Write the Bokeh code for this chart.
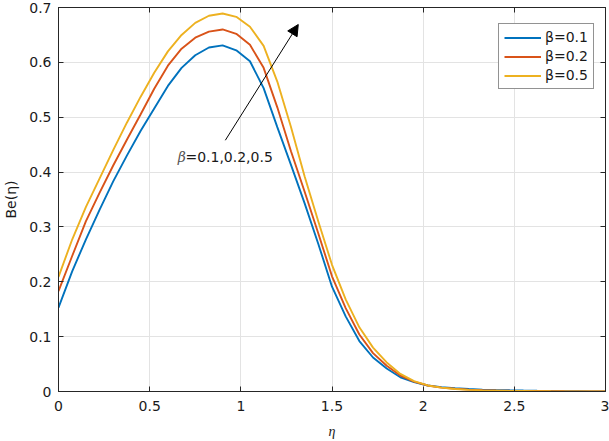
from bokeh.plotting import figure
from bokeh.models import (Range1d, LinearAxis, FixedTicker, NumeralTickFormatter,
                          CustomJSTickFormatter, Arrow, NormalHead, Legend, LegendItem)
from bokeh.core.properties import value
from bokeh.embed import file_html
from bokeh.resources import INLINE

eta = [0, 0.075, 0.15, 0.225, 0.3, 0.375, 0.45, 0.525, 0.6, 0.675, 0.75, 0.825, 0.9,
       0.975, 1.05, 1.125, 1.2, 1.275, 1.35, 1.425, 1.5, 1.575, 1.65, 1.725, 1.8, 1.875,
       1.95, 2.025, 2.1, 2.175, 2.25, 2.325, 2.4, 2.475, 2.55, 2.625, 2.7, 2.775, 2.85,
       2.925, 3.0]

be_b01 = [0.153, 0.219, 0.277, 0.331, 0.383, 0.430, 0.475, 0.516, 0.557, 0.590, 0.613,
          0.627, 0.631, 0.622, 0.602, 0.553, 0.482, 0.413, 0.343, 0.269, 0.191, 0.137,
          0.092, 0.062, 0.042, 0.026, 0.017, 0.011, 0.008, 0.006, 0.0045, 0.0035, 0.0028,
          0.0022, 0.0017, 0.0013, 0.001, 0.0007, 0.0005, 0.0003, 0.0002]
be_b02 = [0.183, 0.247, 0.310, 0.362, 0.412, 0.459, 0.505, 0.552, 0.594, 0.625, 0.645,
          0.656, 0.660, 0.652, 0.632, 0.590, 0.518, 0.438, 0.364, 0.288, 0.210, 0.152,
          0.104, 0.070, 0.047, 0.029, 0.018, 0.011, 0.007, 0.005, 0.0035, 0.0025, 0.0019,
          0.0014, 0.001, 0.0008, 0.0006, 0.0004, 0.0003, 0.0002, 0.0001]
be_b05 = [0.209, 0.277, 0.336, 0.388, 0.440, 0.490, 0.537, 0.581, 0.620, 0.650, 0.672,
          0.685, 0.689, 0.683, 0.665, 0.630, 0.565, 0.482, 0.392, 0.310, 0.231, 0.168,
          0.117, 0.080, 0.053, 0.032, 0.019, 0.011, 0.007, 0.0045, 0.003, 0.002, 0.0015,
          0.001, 0.0008, 0.0006, 0.0004, 0.0003, 0.0002, 0.0001, 0.0001]

labels = ["β=0.1", "β=0.2", "β=0.5"]
colors = ["#0072BD", "#D95319", "#EDB120"]
x_ticks = [0, 0.5, 1, 1.5, 2, 2.5, 3]
y_ticks = [0, 0.1, 0.2, 0.3, 0.4, 0.5, 0.6, 0.7]
annot_text = ["β", "=0.1,0.2,0.5"]

AX = "#262626"
FONT = "DejaVu Sans"

p = figure(width=609, height=441, output_backend="svg", toolbar_location=None,
           x_range=Range1d(0, 3), y_range=Range1d(0, 0.7),
           min_border_left=57, min_border_right=4, min_border_top=7, min_border_bottom=48)
p.background_fill_color = "white"
p.border_fill_color = "white"
p.outline_line_color = AX
p.outline_line_width = 1

for ax in (p.xaxis[0], p.yaxis[0]):
    ax.axis_line_color = AX
    ax.major_tick_line_color = AX
    ax.major_tick_in = 5
    ax.major_tick_out = 0
    ax.minor_tick_line_color = None
    ax.major_label_text_font = FONT
    ax.major_label_text_font_size = "14px"
    ax.major_label_text_color = "#1a1a1a"
    ax.formatter = NumeralTickFormatter(format="0.[0]")
    ax.axis_label_text_font_size = "14px"
    ax.axis_label_text_color = "#1a1a1a"

p.xaxis[0].ticker = FixedTicker(ticks=x_ticks)
p.yaxis[0].ticker = FixedTicker(ticks=y_ticks)
p.xaxis[0].major_label_standoff = 9
p.yaxis[0].major_label_standoff = 7
p.xaxis[0].axis_label = "η"
p.xaxis[0].axis_label_text_font = "Liberation Serif"
p.xaxis[0].axis_label_text_font_style = "italic"
p.xaxis[0].axis_label_standoff = 10
p.yaxis[0].axis_label = "Be(η)"
p.yaxis[0].axis_label_text_font = FONT
p.yaxis[0].axis_label_text_font_style = "normal"
p.yaxis[0].axis_label_standoff = 7

blank = CustomJSTickFormatter(code="return ''")
top = LinearAxis(ticker=FixedTicker(ticks=x_ticks), formatter=blank, major_tick_in=5,
                 major_tick_out=0, minor_tick_line_color=None, axis_line_color=AX,
                 major_tick_line_color=AX, major_label_standoff=0,
                 major_label_text_font_size="1px")
right = LinearAxis(ticker=FixedTicker(ticks=y_ticks), formatter=blank, major_tick_in=5,
                   major_tick_out=0, minor_tick_line_color=None, axis_line_color=AX,
                   major_tick_line_color=AX, major_label_standoff=0,
                   major_label_text_font_size="1px")
p.add_layout(top, "above")
p.add_layout(right, "right")

p.xgrid.ticker = FixedTicker(ticks=x_ticks)
p.ygrid.ticker = FixedTicker(ticks=y_ticks)
p.grid.grid_line_color = "#e3e3e3"
p.grid.grid_line_width = 1

items = []
for ys, c, lab in zip([be_b01, be_b02, be_b05], colors, labels):
    r = p.line(eta, ys, line_color=c, line_width=1.9)
    items.append(LegendItem(label=lab, renderers=[r]))

legend = Legend(items=items, location=(440, 302), border_line_color=AX,
                border_line_width=1, background_fill_color="white", background_fill_alpha=1,
                padding=5, spacing=3, glyph_width=37, glyph_height=15, label_height=15,
                label_standoff=4, margin=0, label_text_font=FONT,
                label_text_font_size="14px", label_text_color="#1a1a1a")
p.add_layout(legend)

p.add_layout(Arrow(end=NormalHead(size=11, fill_color="black", line_color="black"),
                   x_start=0.915, y_start=0.458, x_end=1.315, y_end=0.669,
                   line_color="black", line_width=1))

p.text(x=[0.654], y=[0.428], text=[annot_text[0]], text_font=value("DejaVu Serif"),
       text_font_style="italic", text_font_size="14px", text_color="#555555",
       text_baseline="alphabetic", text_align="left")
p.text(x=[0.696], y=[0.428], text=[annot_text[1]], text_font=value(FONT),
       text_font_size="14px", text_color="#1a1a1a",
       text_baseline="alphabetic", text_align="left")

open("out.html", "w").write(file_html(p, INLINE))
